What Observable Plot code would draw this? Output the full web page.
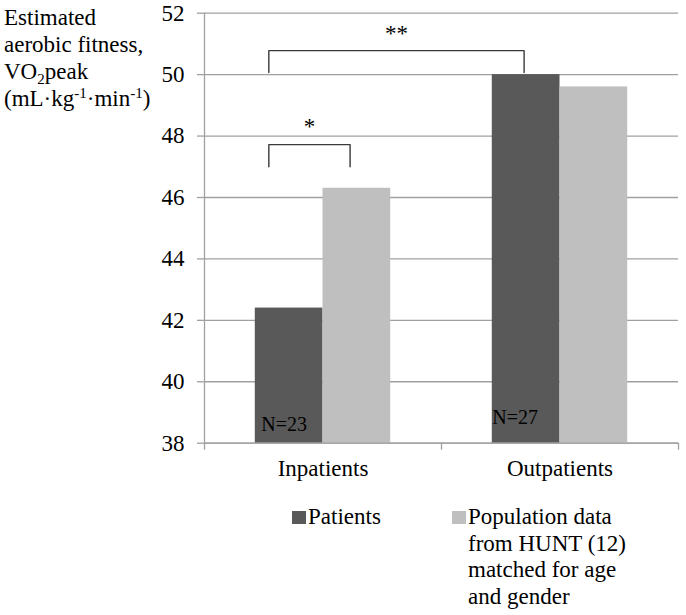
<!DOCTYPE html>
<html>
<head>
<meta charset="utf-8">
<script src="https://cdn.jsdelivr.net/npm/d3@7"></script>
<script src="https://cdn.jsdelivr.net/npm/@observablehq/plot@0.6"></script>
<style>
  html, body { margin: 0; padding: 0; background: #fff; }
  #wrap { position: relative; width: 686px; color: #000; font-family: 'Tinos', 'Liberation Serif', serif; }
  #ytitle { position: absolute; left: 4px; top: 4px; font-size: 23px; line-height: 27px; white-space: nowrap; }
  #ytitle sub, #ytitle sup { font-size: 15px; line-height: 0; position: relative; vertical-align: baseline; }
  #ytitle sub { top: 5px; }
  #ytitle sup { top: -8px; }
  #legend { position: relative; height: 125px; font-size: 23px; line-height: 26.7px; }
  .item { position: absolute; top: 14px; display: flex; align-items: flex-start; }
  .swatch { width: 14px; height: 13px; margin-top: 7px; margin-right: 2px; flex: none; }
  svg { display: block; }
  #chart svg text { font-family: 'Tinos', 'Liberation Serif', serif; }
</style>
</head>
<body>
<div id="wrap">
  <div id="chart"></div>
  <div id="ytitle">Estimated<br>aerobic fitness,<br>VO<sub>2</sub>peak<br>(mL·kg<sup>-1</sup>·min<sup>-1</sup>)</div>
  <div id="legend"></div>
</div>
<script>
const categories = ["Inpatients", "Outpatients"];
const seriesNames = ["Patients", "Population data from HUNT (12) matched for age and gender"];
const seriesLegendLines = [["Patients"], ["Population data", "from HUNT (12)", "matched for age", "and gender"]];
const seriesColors = ["#595959", "#bfbfbf"];
const patients = [42.4, 50.0];
const population = [46.3, 49.6];
const sampleSizes = ["N=23", "N=27"];
const yTicks = [38, 40, 42, 44, 46, 48, 50, 52];
const brackets = [
  {label: "*",  from: {cat: 0, series: 0, at: 0.2}, to: {cat: 0, series: 1, at: 0.4},  bottom: 47.0,  top: 47.72, labelY: 48.3},
  {label: "**", from: {cat: 0, series: 0, at: 0.2}, to: {cat: 1, series: 0, at: 0.47}, bottom: 50.07, top: 50.78, labelY: 51.32}
];

// Excel-like clustered layout: gap width 150% of bar width
const barW = 1 / 3.5;
const barStart = (cat, s) => cat + 0.75 * barW + s * barW;

const bars = [];
categories.forEach((c, i) => {
  bars.push({cat: i, series: 0, value: patients[i]});
  bars.push({cat: i, series: 1, value: population[i]});
});

const bracketPts = brackets.flatMap((b, k) => {
  const x1 = barStart(b.from.cat, b.from.series) + b.from.at * barW;
  const x2 = barStart(b.to.cat, b.to.series) + b.to.at * barW;
  return [
    {k, x: x1, y: b.bottom},
    {k, x: x1, y: b.top},
    {k, x: x2, y: b.top},
    {k, x: x2, y: b.bottom}
  ];
});
const bracketLabels = brackets.map(b => {
  const x1 = barStart(b.from.cat, b.from.series) + b.from.at * barW;
  const x2 = barStart(b.to.cat, b.to.series) + b.to.at * barW;
  return {x: (x1 + x2) / 2, y: b.labelY, label: b.label};
});

const grey = "#a0a0a0";
const font = "Tinos, Liberation Serif, serif";

const chart = Plot.plot({
  width: 686,
  height: 490,
  marginLeft: 204,
  marginRight: 8,
  marginTop: 12.7,
  marginBottom: 47.3,
  style: {fontFamily: font, fontSize: "23px", background: "#fff", color: "#000"},
  x: {type: "linear", domain: [0, categories.length], axis: null},
  y: {domain: [38, 52], axis: null},
  marks: [
    Plot.gridY(yTicks, {stroke: grey, strokeOpacity: 1, strokeWidth: 1.3}),
    Plot.rectY(bars, {
      x1: d => barStart(d.cat, d.series),
      x2: d => barStart(d.cat, d.series) + barW,
      y1: 38,
      y2: "value",
      fill: d => seriesColors[d.series]
    }),
    Plot.ruleX([0], {stroke: grey, strokeWidth: 1.3}),
    Plot.ruleY([38], {stroke: grey, strokeWidth: 1.3}),
    Plot.axisY({ticks: yTicks, tickSize: 7, tickPadding: 13, stroke: grey, strokeWidth: 1.3, fill: "#000", fontSize: 23, fontFamily: font, label: null}),
    Plot.axisX({ticks: d3.range(categories.length + 1), tickSize: 7, tickFormat: () => "", stroke: grey, strokeWidth: 1.3, label: null}),
    Plot.axisX({ticks: categories.map((c, i) => i + 0.5), tickSize: 0, tickPadding: 16, tickFormat: v => categories[Math.floor(v)], fill: "#000", fontSize: 23, fontFamily: font, label: null}),
    Plot.line(bracketPts, {x: "x", y: "y", z: "k", stroke: "#3a3a3a", strokeWidth: 1.4, curve: "linear"}),
    Plot.text(bracketLabels, {x: "x", y: "y", text: "label", fontSize: 23, fontFamily: font, fill: "#000"}),
    Plot.text([0], {x: i => barStart(i, 0), y: 38, text: i => sampleSizes[i], textAnchor: "start", lineAnchor: "bottom", dx: 6, dy: -12, fontSize: 20, fontFamily: font, fill: "#000"}),
    Plot.text([1], {x: i => barStart(i, 0), y: 38, text: i => sampleSizes[i], textAnchor: "start", lineAnchor: "bottom", dx: 0, dy: -19.5, fontSize: 20, fontFamily: font, fill: "#000"})
  ]
});
document.getElementById("chart").appendChild(chart);

const legend = document.getElementById("legend");
const legendLeft = [292, 452];
seriesNames.forEach((name, i) => {
  const item = document.createElement("div");
  item.className = "item";
  item.style.left = legendLeft[i] + "px";
  item.title = name;
  const sw = document.createElement("div");
  sw.className = "swatch";
  sw.style.background = seriesColors[i];
  const label = document.createElement("div");
  label.innerHTML = seriesLegendLines[i].join("<br>");
  item.appendChild(sw);
  item.appendChild(label);
  legend.appendChild(item);
});
</script>
</body>
</html>
